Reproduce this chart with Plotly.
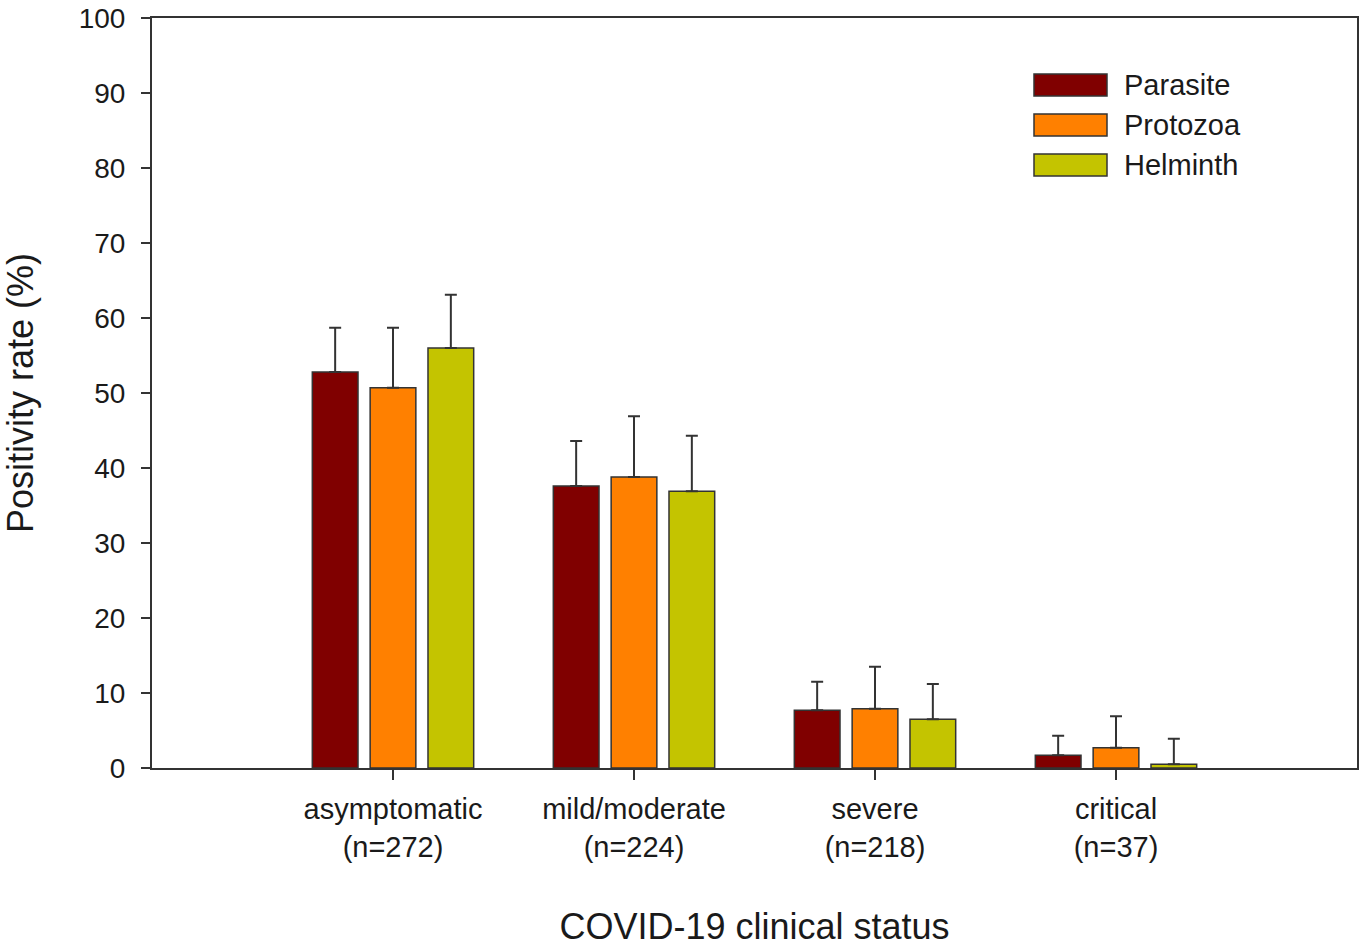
import plotly.graph_objects as go

categories = ["asymptomatic<br>(n=272)", "mild/moderate<br>(n=224)", "severe<br>(n=218)", "critical<br>(n=37)"]
series_names = ["Parasite", "Protozoa", "Helminth"]
parasite = [52.8, 37.6, 7.7, 1.7]
protozoa = [50.7, 38.8, 7.9, 2.7]
helminth = [56.0, 36.9, 6.5, 0.5]
parasite_upper = [58.7, 43.6, 11.5, 4.3]
protozoa_upper = [58.7, 46.9, 13.5, 6.9]
helminth_upper = [63.1, 44.3, 11.2, 3.9]
colors = ["#800000", "#FF8000", "#C4C400"]
y_ticks = [0, 10, 20, 30, 40, 50, 60, 70, 80, 90, 100]

values = [parasite, protozoa, helminth]
uppers = [parasite_upper, protozoa_upper, helminth_upper]

FONT = "Liberation Sans, Arial, sans-serif"
INK = "#1a1a1a"
LINE = "#333333"

fig = go.Figure()
for name, vals, ups, col in zip(series_names, values, uppers, colors):
    fig.add_trace(go.Bar(
        name=name,
        x=categories,
        y=vals,
        marker=dict(color=col, line=dict(color=LINE, width=1.5)),
        error_y=dict(
            type="data",
            symmetric=False,
            array=[u - v for u, v in zip(ups, vals)],
            arrayminus=[0] * len(vals),
            color=LINE,
            thickness=2,
            width=6,
        ),
        showlegend=False,
    ))

# custom legend (swatches + labels) in paper coordinates (page pixel -> paper)
L, R, T, B = 152, 1357, 18, 768
W, H = R - L, B - T
def px2x(px):
    return (px - L) / W
def py2y(py):
    return (B - py) / H

shapes = []
annotations = []
for i, (name, col) in enumerate(zip(series_names, colors)):
    yc = 85 + 40 * i
    shapes.append(dict(
        type="rect", xref="paper", yref="paper",
        x0=px2x(1034), x1=px2x(1107), y0=py2y(yc + 11), y1=py2y(yc - 11),
        fillcolor=col, line=dict(color=LINE, width=1.5),
    ))
    annotations.append(dict(
        xref="paper", yref="paper", x=px2x(1122), y=py2y(yc),
        xanchor="left", yanchor="middle", text=name, showarrow=False,
        font=dict(family=FONT, size=29, color=INK),
    ))

fig.update_layout(
    width=1365,
    height=947,
    margin=dict(l=152, r=8, t=18, b=179),
    paper_bgcolor="white",
    plot_bgcolor="white",
    barmode="group",
    bargap=0.28,
    bargroupgap=0.21,
    font=dict(family=FONT, color=INK),
    shapes=shapes,
    annotations=annotations,
    xaxis=dict(
        range=[-1, 4],
        automargin=False,
        showline=True, linecolor=LINE, linewidth=2, mirror=True,
        ticks="outside", ticklen=10, tickwidth=2, tickcolor=LINE,
        tickfont=dict(family=FONT, size=29, color=INK),
        ticklabelstandoff=4,
        title=dict(text="COVID-19 clinical status", font=dict(family=FONT, size=36, color=INK), standoff=55),
        showgrid=False, zeroline=False,
    ),
    yaxis=dict(
        range=[0, 100],
        automargin=False,
        tickvals=y_ticks,
        ticklabeloverflow="allow",
        showline=True, linecolor=LINE, linewidth=2, mirror=True,
        ticks="outside", ticklen=9, tickwidth=2, tickcolor=LINE,
        tickfont=dict(family=FONT, size=28, color=INK),
        ticklabelstandoff=10,
        title=dict(text="Positivity rate (%)", font=dict(family=FONT, size=36, color=INK), standoff=44),
        showgrid=False, zeroline=False,
    ),
)

# remove the page's default body margin so the 1365x947 figure fills the window
fig.write_html(
    "out.html",
    config={"displayModeBar": False},
    post_script="document.body.style.margin='0';document.body.style.overflow='hidden';",
)
